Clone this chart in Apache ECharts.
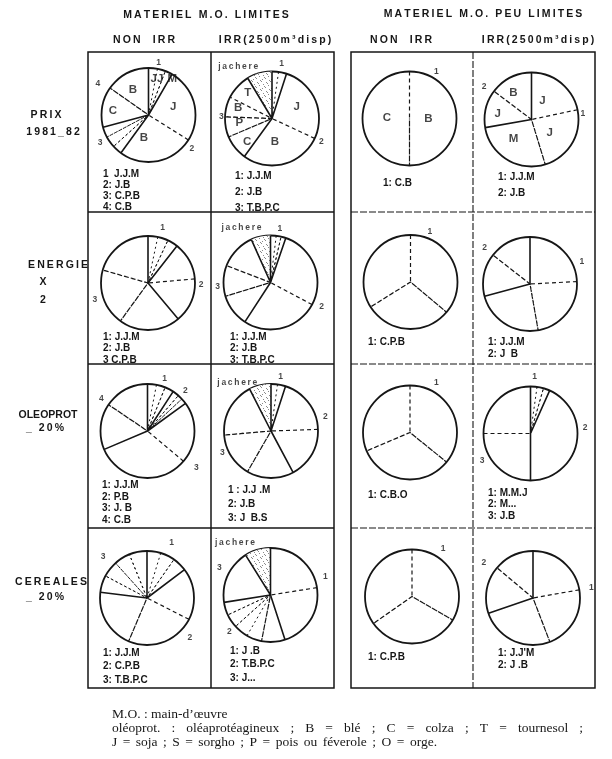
<!DOCTYPE html>
<html>
<head>
<meta charset="utf-8">
<script src="https://cdn.jsdelivr.net/npm/echarts@6/dist/echarts.min.js"></script>
<style>
html,body{margin:0;background:#fff}
#chart{width:612px;height:759px}
</style>
</head>
<body>
<div id="chart"></div>
<script>
// pies in reading order: row PRIX, ENERGIE, OLEOPROT, CEREALES; cols: NON IRR / IRR (limites), NON IRR / IRR (peu limites)
// angles in degrees clockwise from 12 o'clock, radii as fraction of the circle
const solidRays = [
  [0, 30, 216, 255], [0, 18, 216, 329], [], [0, 260],
  [0, 38, 140], [0, 19, 213, 336], [], [0, 255],
  [0, 33, 54, 247], [0, 18, 152, 333], [], [0, 24, 180],
  [0, 53, 277], [0, 162, 261, 328], [], [0, 251]
];
const dashedRays = [
  [122, 305], [115, 247, 272, 297], [0, 180], [78, 163, 307],
  [85, 216, 286], [118, 253, 291], [0, 130, 238], [87, 170, 308],
  [130, 304], [88, 210, 265], [0, 129, 247], [270],
  [117, 203], [81, 191], [0, 120, 235], [80, 159, 310]
];
const hatchRays = [
  [11, 21, 228, 242], [8], [], [],
  [12, 25], [7, 13], [], [],
  [11, 22, 41, 47], [8], [], [8, 16],
  [17, 35, 298, 318, 338], [210, 228, 245], [], []
];
const jachere = [
  [], [[329, 360]], [], [],
  [], [[336, 360]], [], [],
  [], [[333, 360]], [], [],
  [], [[328, 360]], [], []
];
const crops = [
  [['J', .55, 72], ['B', .5, 191], ['C', .76, 276], ['B', .63, 328], ['JJ', .8, 13], ['M', .93, 33]],
  [['J', .58, 65], ['B', .5, 173], ['C', .72, 227], ['P', .7, 262], ['B', .76, 288], ['T', .76, 317]],
  [['C', .48, 272], ['B', .4, 90]],
  [['B', .69, 326], ['J', .47, 30], ['J', .73, 280], ['J', .48, 126], ['M', .56, 223]],
  [], [], [], [], [], [], [], [], [], [], [], []
];
const keys = [
  [['1', 1.13, 11], ['2', 1.17, 128], ['3', 1.19, 240], ['4', 1.27, 302]],
  [['jachere', 1.32, 327], ['1', 1.19, 10], ['2', 1.16, 115], ['3', 1.08, 272]],
  [['1', 1.14, 30]],
  [['2', 1.23, 305], ['1', 1.1, 83]],
  [['1', 1.21, 15], ['2', 1.13, 92], ['3', 1.18, 253]],
  [['jachere', 1.32, 332], ['1', 1.16, 10], ['2', 1.2, 115], ['3', 1.13, 265]],
  [['1', 1.15, 21]],
  [['2', 1.24, 309], ['1', 1.2, 67]],
  [['1', 1.17, 18], ['2', 1.18, 43], ['3', 1.3, 127], ['4', 1.2, 305]],
  [['jachere', 1.25, 325], ['1', 1.18, 10], ['2', 1.2, 75], ['3', 1.13, 246]],
  [['1', 1.2, 28]],
  [['1', 1.22, 4], ['2', 1.17, 84], ['3', 1.18, 241]],
  [['1', 1.29, 24], ['2', 1.25, 133], ['3', 1.28, 313]],
  [['jachere', 1.35, 326], ['1', 1.23, 72], ['2', 1.18, 228], ['3', 1.23, 298]],
  [['1', 1.22, 33]],
  [['2', 1.29, 306], ['1', 1.26, 80]]
];
const rotations = [
  ['1  J.J.M', '2: J.B', '3: C.P.B', '4: C.B'],
  ['1: J.J.M', '2: J.B', '3: T.B.P.C'],
  ['1: C.B'],
  ['1: J.J.M', '2: J.B'],
  ['1: J.J.M', '2: J.B', '3 C.P.B'],
  ['1: J.J.M', '2: J.B', '3: T.B.P.C'],
  ['1: C.P.B'],
  ['1: J.J.M', '2: J  B'],
  ['1: J.J.M', '2: P.B', '3: J. B', '4: C.B'],
  ['1 : J.J .M', '2: J.B', '3: J  B.S'],
  ['1: C.B.O'],
  ['1: M.M.J', '2: M...', '3: J.B'],
  ['1: J.J.M', '2: C.P.B', '3: T.B.P.C'],
  ['1: J .B', '2: T.B.P.C', '3: J...'],
  ['1: C.P.B'],
  ["1: J.J'M", '2: J .B']
];
const colHeads = [['MATERIEL M.O. LIMITES', 206, 15], ['MATERIEL M.O. PEU LIMITES', 483, 14],
  ['NON  IRR', 144, 40], ['IRR(2500m³disp)', 275, 40], ['NON  IRR', 401, 40], ['IRR(2500m³disp)', 538, 40]];
const rowHeads = [['PRIX', 46, 115], ['1981_82', 53, 132], ['ENERGIE', 58, 265], ['X', 43, 282], ['2', 43, 300],
  ['CEREALES', 51, 582], ['_ 20%', 45, 597], ['_ 20%', 45, 428]];
const noteLine1 = 'M.O. : main-d\u2019\u0153uvre';
const noteLine2 = 'ol\u00e9oprot. : ol\u00e9aprot\u00e9agineux ; B = bl\u00e9 ; C = colza ; T = tournesol ;';
const noteLine3 = 'J = soja ; S = sorgho ; P = pois ou f\u00e9verole ; O = orge.';

// layout
const centers = [
  [148.5, 115], [272, 118.5], [409.5, 118.5], [531.5, 119.5],
  [148, 283], [270.5, 282.5], [410.5, 282], [530, 284],
  [147.5, 431], [271, 431], [410, 432.5], [530.5, 433.5],
  [147, 598], [270.5, 595], [412, 596.5], [533, 598]
];
const R = 47;
const legendPos = [
  [103, 174, 11.2], [235, 176, 16], [383, 183, 0], [498, 177, 16],
  [103, 337, 11.5], [230, 337, 11.5], [368, 342, 0], [488, 342, 12.5],
  [102, 485, 11.8], [228, 490, 14], [368, 495, 0], [488, 493, 11.5],
  [103, 653, 13.5], [230, 651, 13.5], [368, 657, 0], [498, 653, 12.5]
];
// footnote lines: [text, y, right edge or 0 for natural spacing]
const noteLines = [[noteLine1, 714, 0], [noteLine2, 728, 583], [noteLine3, 742, 437]];

const sp = s => s.split('').join('\u2009');
const ink = '#161616';
const sans = '"Liberation Sans", Arial, sans-serif';
const serif = '13.5px "Liberation Serif", "Times New Roman", serif';

// light stipple for the fallow (jachere) sectors
const dots = document.createElement('canvas');
dots.width = 9; dots.height = 9;
const dctx = dots.getContext('2d');
dctx.fillStyle = '#fff'; dctx.fillRect(0, 0, 9, 9);
dctx.fillStyle = '#8a8a8a';
[[0, 0], [5, 1], [2, 3], [7, 4], [4, 6], [1, 7], [8, 8], [6, 2], [3, 5]].forEach(([x, y]) => dctx.fillRect(x, y, 1, 1));

function rays(angles) {
  const d = [];
  angles.forEach(a => { d.push([1, a]); d.push([0, a]); });
  return d;
}
function sectors(list) {
  const out = []; let pos = 0;
  list.forEach(([a, b]) => {
    if (a > pos) out.push({ value: a - pos, itemStyle: { color: 'transparent' } });
    out.push({ value: b - a, itemStyle: { color: { image: dots, repeat: 'repeat' } } });
    pos = b;
  });
  if (pos < 360) out.push({ value: 360 - pos, itemStyle: { color: 'transparent' } });
  return out;
}

const polar = [], angleAxis = [], radiusAxis = [], series = [], graphic = [];
centers.forEach((c, i) => {
  polar.push({ center: c, radius: R });
  angleAxis.push({
    polarIndex: i, type: 'value', min: 0, max: 360, startAngle: 90, clockwise: true,
    axisLine: { lineStyle: { color: ink, width: 1.8 } },
    axisTick: { show: false }, axisLabel: { show: false }, splitLine: { show: false }
  });
  radiusAxis.push({
    polarIndex: i, type: 'value', min: 0, max: 1,
    axisLine: { show: false }, axisTick: { show: false }, axisLabel: { show: false }, splitLine: { show: false }
  });
  if (jachere[i].length) {
    series.push({
      type: 'pie', center: c, radius: R, startAngle: 90, clockwise: true, silent: true,
      label: { show: false }, labelLine: { show: false }, z: 1,
      data: sectors(jachere[i])
    });
  }
  const lineSets = [[solidRays[i], 1.6, 'solid'], [dashedRays[i], 1.2, [4, 3]], [hatchRays[i], 1, [2, 3]]];
  lineSets.forEach(([a, w, t]) => {
    if (!a.length) return;
    series.push({
      type: 'line', coordinateSystem: 'polar', polarIndex: i, symbol: 'none', silent: true, z: 3,
      lineStyle: { color: ink, width: w, type: t },
      data: rays(a)
    });
  });
  [[crops[i], 11.5], [keys[i], 8.5]].forEach(([items, fs]) => {
    if (!items.length) return;
    series.push({
      type: 'scatter', coordinateSystem: 'polar', polarIndex: i, symbolSize: 1, clip: false, silent: true, z: 4,
      itemStyle: { color: 'transparent' },
      label: {
        show: true, position: 'inside', color: ink, fontFamily: sans, fontWeight: 'bold',
        fontSize: fs, formatter: p => p.name === 'jachere' ? sp(p.name) : p.name
      },
      labelLayout: { hideOverlap: false },
      data: items.map(([t, r, a]) => ({ name: t, value: [r, a] }))
    });
  });
  const [lx, ly, lh] = legendPos[i];
  rotations[i].forEach((t, k) => {
    graphic.push({
      type: 'text', x: lx, y: ly + k * lh, silent: true,
      style: { text: t, font: 'bold 10px ' + sans, fill: ink, verticalAlign: 'middle' }
    });
  });
});

colHeads.concat(rowHeads).forEach(([t, x, y]) => graphic.push({
  type: 'text', x, y, silent: true,
  style: { text: sp(t), font: 'bold 10.5px ' + sans, fill: ink, align: 'center', verticalAlign: 'middle' }
}));
graphic.push({
  type: 'text', x: 48, y: 415, silent: true,
  style: { text: 'OLEOPROT', font: 'bold 10.5px ' + sans, fill: ink, align: 'center', verticalAlign: 'middle' }
});

// footnote, words spread to the printed line width (justified setting)
const mctx = document.createElement('canvas').getContext('2d');
mctx.font = serif;
noteLines.forEach(([line, y, right]) => {
  if (!right) {
    graphic.push({ type: 'text', x: 112, y, silent: true,
      style: { text: line, font: serif, fill: ink, verticalAlign: 'middle' } });
    return;
  }
  const words = line.split(' ');
  const w = words.map(t => mctx.measureText(t).width);
  const gap = (right - 112 - w.reduce((a, b) => a + b, 0)) / (words.length - 1);
  let x = 112;
  words.forEach((t, k) => {
    graphic.push({ type: 'text', x, y, silent: true,
      style: { text: t, font: serif, fill: ink, verticalAlign: 'middle' } });
    x += w[k] + gap;
  });
});

// frames
const frame = (x, y, w, h, dash) => {
  graphic.push({ type: 'rect', silent: true, shape: { x, y, width: w, height: h },
    style: { fill: null, stroke: ink, lineWidth: 1.5 } });
  const mid = x + Math.round(w / 2);
  [[mid, y, mid, y + h], ...[212, 364, 528].map(yy => [x, yy, x + w, yy])].forEach(([x1, y1, x2, y2]) => {
    graphic.push({ type: 'line', silent: true, shape: { x1, y1, x2, y2 },
      style: { stroke: ink, lineWidth: dash ? 1.1 : 1.5, lineDash: dash ? [7, 2] : null } });
  });
};
frame(88, 52, 246, 636, false);
frame(351, 52, 244, 636, true);

const chart = echarts.init(document.getElementById('chart'));
chart.setOption({
  animation: false,
  backgroundColor: '#fff',
  polar, angleAxis, radiusAxis, series, graphic
});
</script>
</body>
</html>
